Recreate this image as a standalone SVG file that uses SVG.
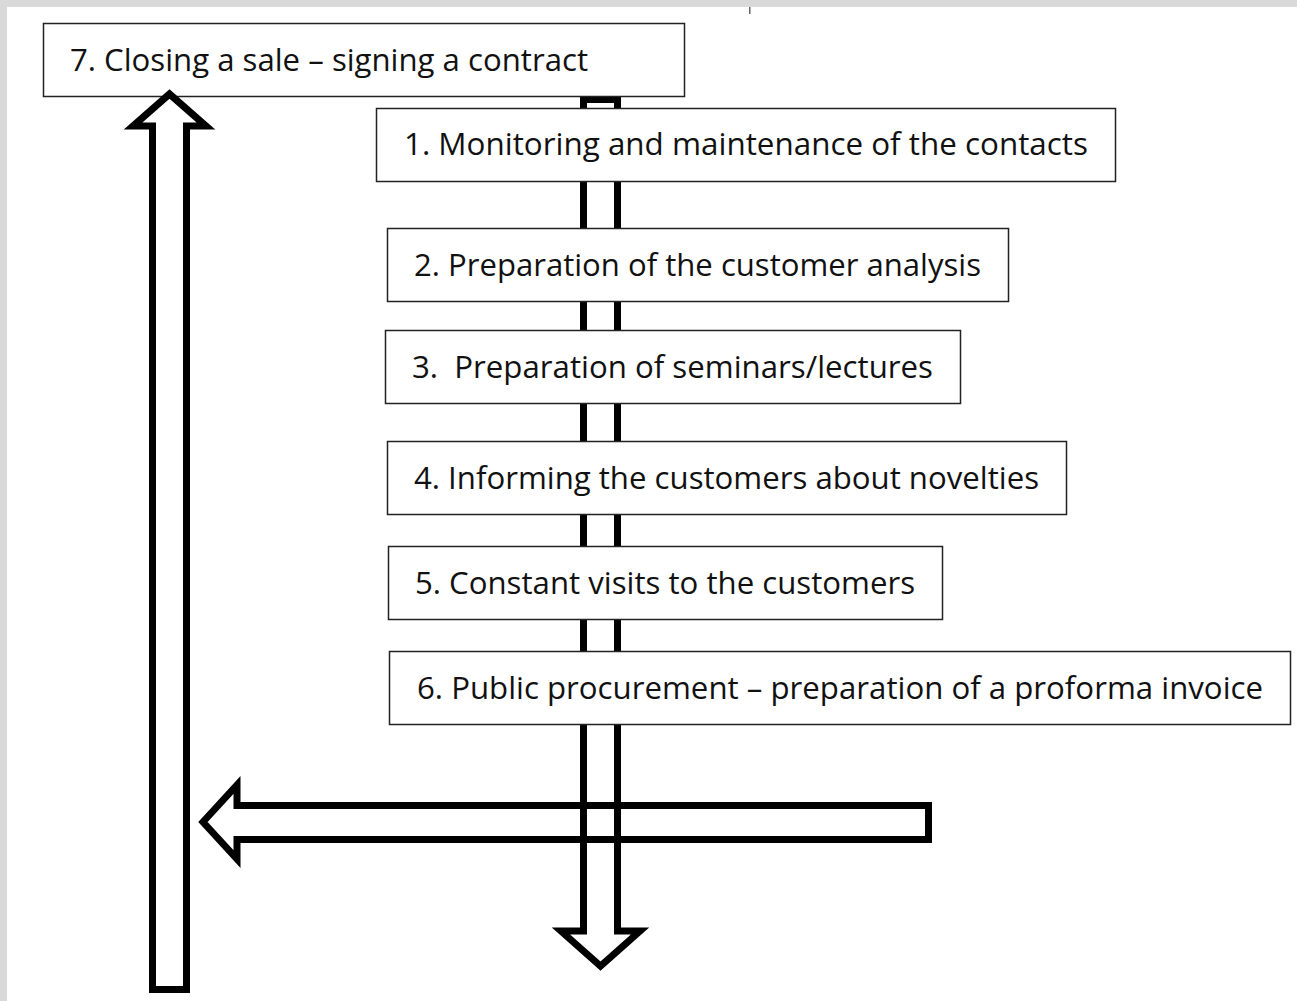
<svg xmlns="http://www.w3.org/2000/svg" width="1297" height="1001" viewBox="0 0 1297 1001">
<style>
.box{fill:#fff;stroke:#222;stroke-width:1.5}
.lbl{font-family:"Open Sans","Liberation Sans",sans-serif;font-size:31px;fill:#111}
.arr{stroke:#000;stroke-width:7;stroke-linejoin:miter}
</style>
<rect x="0" y="0" width="1297" height="1001" fill="#fff"/>
<rect x="0" y="0" width="1297" height="7" fill="#d9d9d9"/>
<rect x="0" y="0" width="7" height="1001" fill="#d9d9d9"/>
<rect x="749" y="7" width="1.5" height="7" fill="#666"/>
<g id="connectors-back">
<path id="flow-down" class="arr" fill="none" d="M583.5,99.5 L617.5,99.5 L617.5,931 L640,931 L600.5,966 L561,931 L583.5,931 Z"/>
</g>
<g id="node1"><rect class="box" x="376.5" y="108.5" width="739" height="73"/><text class="lbl" x="404" y="155" textLength="684" lengthAdjust="spacingAndGlyphs">1. Monitoring and maintenance of the contacts</text></g>
<g id="node2"><rect class="box" x="387.5" y="228.5" width="621" height="73"/><text class="lbl" x="414" y="276" textLength="567" lengthAdjust="spacingAndGlyphs">2. Preparation of the customer analysis</text></g>
<g id="node3"><rect class="box" x="385.5" y="330.5" width="575" height="73"/><text class="lbl" x="412" y="378" textLength="521" lengthAdjust="spacingAndGlyphs" xml:space="preserve">3.  Preparation of seminars/lectures</text></g>
<g id="node4"><rect class="box" x="387.5" y="441.5" width="679" height="73"/><text class="lbl" x="414" y="489" textLength="625" lengthAdjust="spacingAndGlyphs">4. Informing the customers about novelties</text></g>
<g id="node5"><rect class="box" x="388.5" y="546.5" width="554" height="73"/><text class="lbl" x="415" y="594" textLength="500" lengthAdjust="spacingAndGlyphs">5. Constant visits to the customers</text></g>
<g id="node6"><rect class="box" x="389.5" y="651.5" width="901" height="73"/><text class="lbl" x="417" y="699" textLength="846" lengthAdjust="spacingAndGlyphs">6. Public procurement – preparation of a proforma invoice</text></g>
<g id="node7"><rect class="box" x="43.5" y="23.5" width="641" height="73"/><text class="lbl" x="70" y="71" textLength="518" lengthAdjust="spacingAndGlyphs">7. Closing a sale – signing a contract</text></g>
<g id="connectors">
<path id="flow-left" class="arr" fill="none" d="M928.5,805.5 L237,805.5 L237,785 L203,822 L237,859 L237,839.5 L928.5,839.5 Z"/>
<path id="flow-up" class="arr" fill="#fff" d="M152.5,989.5 L186.5,989.5 L186.5,126 L206,126 L169.5,94 L133,126 L152.5,126 Z"/>
</g>
</svg>
